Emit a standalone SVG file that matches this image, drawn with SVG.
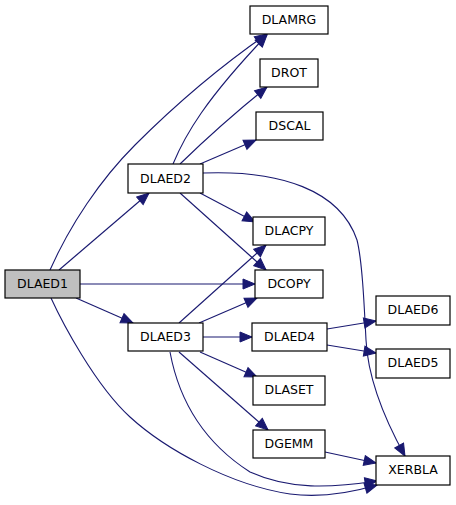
<svg xmlns="http://www.w3.org/2000/svg" width="456" height="505" viewBox="0 0 456 505">
<style>
.n rect{fill:#fff;stroke:#000;stroke-width:1.2}
.n.root rect{fill:#bfbfbf}
.n text{font-family:"DejaVu Sans","Liberation Sans",sans-serif;font-size:12.5px;text-anchor:middle;fill:#000}
#edges path{fill:none;stroke:#191970;stroke-width:1.1;marker-end:url(#arr)}
</style>
<defs>
<marker id="arr" markerUnits="userSpaceOnUse" markerWidth="14" markerHeight="12" refX="12" refY="5" orient="auto" viewBox="-1 -1 14 12">
<path d="M0,0 L12,5 L0,10 z" fill="#191970" stroke="#191970" stroke-width="1"/>
</marker>
</defs>
<rect width="456" height="505" fill="#fff"/>
<g id="edges">
<path d="M50,270 C70,225 100,180 135,145 C170,110 215,70 267,34"/>
<path d="M59,270 L149,193"/>
<path d="M80,284 L255,284"/>
<path d="M76,298 L133,323"/>
<path d="M51,298 C62,322 95,385 130,417 C165,449 230,485 290,494 C320,498 350,493 377,485"/>
<path d="M173,164 C185,135 205,100 267,35"/>
<path d="M180,164 Q220,125 267,87"/>
<path d="M200,164 L256,140"/>
<path d="M203,173 C280,170 340,190 357,240 C362,260 364,300 366,340 C368,380 385,420 405,456"/>
<path d="M200,193 L255,222"/>
<path d="M180,193 L266,270"/>
<path d="M179,323 L266,245"/>
<path d="M199,323 L257,298"/>
<path d="M203,337 L252,337"/>
<path d="M200,352 L257,377"/>
<path d="M179,352 L268,430"/>
<path d="M170,352 C178,395 200,440 250,472 C290,490 330,488 377,481"/>
<path d="M327,329 L376,321"/>
<path d="M327,345 L376,353"/>
<path d="M325,452 L376,463"/>
</g>
<g id="DLAMRG" class="n"><rect x="250" y="6" width="78" height="28"/><text x="289" y="23.5">DLAMRG</text></g>
<g id="DROT" class="n"><rect x="260" y="59" width="58" height="28"/><text x="289" y="76.5">DROT</text></g>
<g id="DSCAL" class="n"><rect x="256" y="112" width="67" height="28"/><text x="289.5" y="129.5">DSCAL</text></g>
<g id="DLAED2" class="n"><rect x="128" y="164" width="75" height="29"/><text x="165.5" y="182.5">DLAED2</text></g>
<g id="DLACPY" class="n"><rect x="253" y="217" width="72" height="28"/><text x="289" y="234.5">DLACPY</text></g>
<g id="DLAED1" class="n root"><rect x="5" y="270" width="75" height="28"/><text x="42.5" y="287.5">DLAED1</text></g>
<g id="DCOPY" class="n"><rect x="255" y="270" width="68" height="28"/><text x="289" y="287.5">DCOPY</text></g>
<g id="DLAED6" class="n"><rect x="376" y="296" width="74" height="29"/><text x="413" y="314">DLAED6</text></g>
<g id="DLAED3" class="n"><rect x="128" y="323" width="75" height="28"/><text x="165.5" y="340.5">DLAED3</text></g>
<g id="DLAED4" class="n"><rect x="252" y="323" width="75" height="28"/><text x="289.5" y="340.5">DLAED4</text></g>
<g id="DLAED5" class="n"><rect x="376" y="349" width="74" height="29"/><text x="413" y="367">DLAED5</text></g>
<g id="DLASET" class="n"><rect x="253" y="376" width="72" height="29"/><text x="289" y="394">DLASET</text></g>
<g id="DGEMM" class="n"><rect x="253" y="430" width="72" height="28"/><text x="289" y="447.5">DGEMM</text></g>
<g id="XERBLA" class="n"><rect x="376" y="456" width="74" height="29"/><text x="413" y="474">XERBLA</text></g>
</svg>
